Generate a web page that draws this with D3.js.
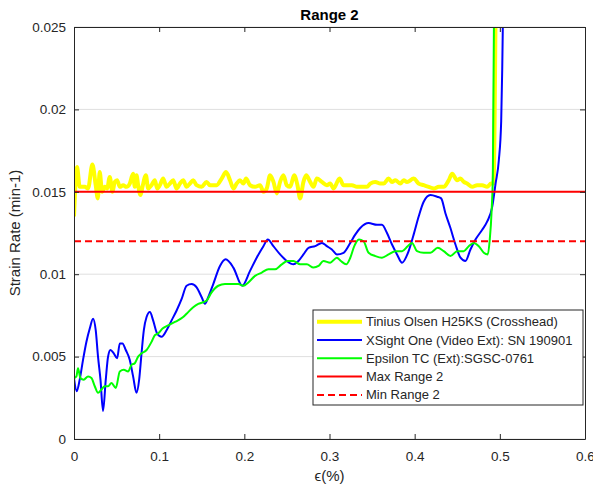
<!DOCTYPE html>
<meta charset="utf-8">
<script src="https://d3js.org/d3.v7.min.js"></script>
<style>
  body { margin: 0; background: #fff; }
  text { font-family: "Liberation Sans", Arial, sans-serif; fill: #262626; }
</style>
<div id="chart"></div>
<script>

// data: strain (%) and strain rate (min-1)
var yellowX = [0,0.0036,0.0067,0.0126,0.0165,0.0216,0.0255,0.0279,0.0302,0.0330,0.0361,0.0389,0.0420,0.0451,0.0479,0.0506,0.0538,0.0577,0.0616,0.0655,0.0694,0.0714,0.0734,0.0753,0.0781,0.0804,0.0844,0.0871,0.0910,0.0949,0.0977,0.1008,0.1047,0.1087,0.1126,0.1165,0.1204,0.1244,0.1283,0.1322,0.1361,0.1400,0.1440,0.1498,0.1557,0.1596,0.1675,0.1734,0.1785,0.1832,0.1871,0.1910,0.1949,0.1989,0.2020,0.2067,0.2126,0.2185,0.2224,0.2263,0.2302,0.2342,0.2381,0.2420,0.2459,0.2498,0.2538,0.2585,0.2624,0.2655,0.2694,0.2726,0.2773,0.2812,0.2851,0.2910,0.2969,0.3008,0.3047,0.3118,0.3165,0.3204,0.3263,0.3322,0.3381,0.3440,0.3479,0.3538,0.3596,0.3636,0.3694,0.3734,0.3773,0.3832,0.3871,0.3910,0.3989,0.4047,0.4106,0.4165,0.4224,0.4283,0.4341,0.4400,0.4440,0.4498,0.4538,0.4577,0.4616,0.4675,0.4734,0.4792,0.4851,0.4898,0.4925,0.4950];
var yellowY = [0.0135,0.0165,0.0153,0.0153,0.0152,0.01665,0.0154,0.0146,0.0162,0.0150,0.0153,0.0152,0.0159,0.0150,0.0156,0.0157,0.0153,0.0154,0.0153,0.0155,0.0161,0.0153,0.0160,0.0154,0.0148,0.0153,0.0160,0.0152,0.0154,0.0157,0.0152,0.0154,0.0158,0.0153,0.0155,0.0157,0.0152,0.0155,0.0157,0.0153,0.0155,0.0157,0.0154,0.0153,0.0156,0.0154,0.0154,0.0158,0.0162,0.0157,0.0152,0.0155,0.0157,0.0155,0.0158,0.0154,0.0153,0.0154,0.0150,0.0152,0.0160,0.0156,0.0149,0.0156,0.0160,0.0154,0.0153,0.0160,0.0154,0.0146,0.0156,0.0160,0.0156,0.0153,0.0158,0.0156,0.0154,0.0155,0.0152,0.0158,0.0154,0.0154,0.0154,0.0153,0.0153,0.0153,0.0155,0.0156,0.0155,0.0155,0.0158,0.0156,0.0157,0.0155,0.0157,0.0156,0.0158,0.0155,0.0154,0.0153,0.0152,0.0153,0.0153,0.0157,0.0161,0.0157,0.0158,0.0156,0.0155,0.0153,0.0154,0.0154,0.0153,0.0155,0.0155,0.0260];

var blueX = [0,0.0032,0.0067,0.0106,0.0146,0.0185,0.0224,0.0255,0.0282,0.0311,0.0341,0.0373,0.0400,0.0428,0.0467,0.0506,0.0538,0.0569,0.0608,0.0655,0.0694,0.0734,0.0765,0.0793,0.0820,0.0852,0.0891,0.0929,0.0976,0.1028,0.1087,0.1146,0.1205,0.1264,0.1322,0.1381,0.1440,0.1499,0.1538,0.1576,0.1635,0.1714,0.1781,0.1871,0.1975,0.2067,0.2145,0.2224,0.2275,0.2341,0.2420,0.2499,0.2576,0.2635,0.2694,0.2753,0.2832,0.2911,0.2969,0.3028,0.3087,0.3165,0.3244,0.3302,0.3361,0.3459,0.3558,0.3616,0.3675,0.3734,0.3793,0.3852,0.3929,0.3988,0.4047,0.4106,0.4185,0.4264,0.4311,0.4361,0.4420,0.4479,0.4538,0.4596,0.4655,0.4714,0.4793,0.4852,0.4911,0.4950,0.4988,0.5016,0.5028,0.5035,0.5040];
var blueY = [0.0037,0.0029,0.0036,0.0048,0.0059,0.0067,0.0073,0.0066,0.0050,0.0036,0.0017,0.0036,0.0050,0.0054,0.0052,0.0049,0.0058,0.0058,0.0054,0.0048,0.0038,0.0028,0.0036,0.0052,0.0066,0.0074,0.0077,0.0072,0.0064,0.0062,0.0066,0.0072,0.0078,0.0085,0.0093,0.0094,0.0092,0.0086,0.0082,0.0086,0.0094,0.0105,0.0109,0.0104,0.0093,0.0102,0.0110,0.0117,0.0121,0.0117,0.0112,0.0108,0.0106,0.0108,0.0112,0.0116,0.0117,0.0119,0.0117,0.0115,0.0112,0.0113,0.0119,0.0124,0.0128,0.0131,0.0130,0.0130,0.0125,0.0118,0.0112,0.0107,0.0114,0.0124,0.0135,0.0144,0.0148,0.0147,0.0146,0.0137,0.0128,0.0118,0.0110,0.0108,0.0115,0.0121,0.0127,0.0132,0.0141,0.0155,0.0169,0.0193,0.0224,0.0250,0.0270];

var greenX = [0,0.0028,0.0047,0.0075,0.0114,0.0165,0.0205,0.0244,0.0282,0.0322,0.0361,0.0400,0.0440,0.0491,0.0538,0.0585,0.0635,0.0675,0.0714,0.0753,0.0793,0.0852,0.0911,0.0949,0.0988,0.1040,0.1106,0.1185,0.1282,0.1341,0.1400,0.1459,0.1518,0.1558,0.1616,0.1694,0.1773,0.1852,0.1929,0.1988,0.2047,0.2126,0.2205,0.2282,0.2361,0.2440,0.2506,0.2576,0.2655,0.2734,0.2812,0.2871,0.2929,0.3008,0.3087,0.3134,0.3196,0.3244,0.3291,0.3345,0.3400,0.3459,0.3538,0.3616,0.3694,0.3773,0.3852,0.3918,0.3969,0.4028,0.4106,0.4185,0.4271,0.4341,0.4420,0.4499,0.4576,0.4635,0.4694,0.4753,0.4812,0.4859,0.4880,0.4905,0.4918,0.4932];
var greenY = [0.0037,0.0038,0.0043,0.0037,0.0036,0.0038,0.0037,0.0032,0.0028,0.0030,0.0032,0.0032,0.0034,0.0031,0.0041,0.0042,0.0041,0.0045,0.0046,0.0050,0.0052,0.0054,0.0059,0.0063,0.0064,0.0067,0.0069,0.0071,0.0074,0.0077,0.0080,0.0082,0.0083,0.0084,0.0089,0.0093,0.0094,0.0094,0.0094,0.0093,0.0095,0.0099,0.0101,0.0103,0.0103,0.0106,0.0108,0.0108,0.0106,0.0106,0.0104,0.0105,0.0108,0.0107,0.0110,0.0108,0.0106,0.0110,0.0117,0.0121,0.0120,0.0113,0.0111,0.0110,0.0112,0.0114,0.0114,0.0117,0.0119,0.0114,0.0113,0.0113,0.0116,0.0114,0.0111,0.0114,0.0114,0.0117,0.0119,0.0117,0.0113,0.0112,0.0120,0.0140,0.0160,0.0260];

var maxRange = 0.015;
var minRange = 0.012;

var legendLabels = ["Tinius Olsen H25KS (Crosshead)", "XSight One (Video Ext): SN 190901",
                    "Epsilon TC (Ext):SGSC-0761", "Max Range 2", "Min Range 2"];
var xTicks = [0, 0.1, 0.2, 0.3, 0.4, 0.5, 0.6];
var yTicks = [0, 0.005, 0.01, 0.015, 0.02, 0.025];

var W = 593, H = 488;
var pL = 74, pR = 585, pT = 27, pB = 439;

var svg = d3.select("#chart").append("svg")
    .attr("width", W).attr("height", H);

var x = d3.scaleLinear().domain([0, 0.6]).range([pL, pR]);
var y = d3.scaleLinear().domain([0, 0.025]).range([pB, pT]);

// grid (horizontal only)
svg.append("g").selectAll("line")
  .data(yTicks)
  .enter().append("line")
    .attr("x1", pL).attr("x2", pR)
    .attr("y1", function(d){ return y(d); })
    .attr("y2", function(d){ return y(d); })
    .attr("stroke", "#dfdfdf").attr("stroke-width", 1);

svg.append("clipPath").attr("id", "clip")
  .append("rect").attr("x", pL).attr("y", pT)
    .attr("width", pR - pL).attr("height", pB - pT);

var plot = svg.append("g").attr("clip-path", "url(#clip)");

var line = d3.line()
    .curve(d3.curveMonotoneX)
    .x(function(d){ return x(d[0]); })
    .y(function(d){ return y(d[1]); });

function zip(a, b) { return a.map(function(v, i){ return [v, b[i]]; }); }

var series = [
  {pts: zip(yellowX, yellowY), color: "#ffff00", w: 4},
  {pts: zip(blueX, blueY), color: "#0000ff", w: 2},
  {pts: zip(greenX, greenY), color: "#00ff00", w: 2}
];

series.forEach(function(s){
  plot.append("path")
    .datum(s.pts)
    .attr("fill", "none")
    .attr("stroke", s.color)
    .attr("stroke-width", s.w)
    .attr("stroke-linejoin", "round")
    .attr("d", line);
});

plot.append("line")
  .attr("x1", x(0)).attr("x2", x(0.6))
  .attr("y1", y(maxRange)).attr("y2", y(maxRange))
  .attr("stroke", "#ff0000").attr("stroke-width", 2);
plot.append("line")
  .attr("x1", x(0)).attr("x2", x(0.6))
  .attr("y1", y(minRange)).attr("y2", y(minRange))
  .attr("stroke", "#ff0000").attr("stroke-width", 2)
  .attr("stroke-dasharray", "7,4");

// axes
var fmt = function(d){ return d === 0 ? "0" : String(+d.toFixed(3)); };
function styleAxis(g) {
  g.select(".domain").attr("stroke", "#262626");
  g.selectAll(".tick line").attr("stroke", "#262626");
  g.selectAll(".tick text").style("font-size", "13.5px").attr("fill", "#262626");
}

svg.append("g")
  .attr("transform", "translate(0," + pB + ")")
  .call(d3.axisBottom(x).tickValues(xTicks).tickFormat(fmt).tickSizeInner(-5).tickSizeOuter(0).tickPadding(12))
  .call(styleAxis);
svg.append("g")
  .attr("transform", "translate(0," + pT + ")")
  .call(d3.axisTop(x).tickValues(xTicks).tickFormat("").tickSizeInner(-5).tickSizeOuter(0))
  .call(styleAxis);
svg.append("g")
  .attr("transform", "translate(" + pL + ",0)")
  .call(d3.axisLeft(y).tickValues(yTicks).tickFormat(fmt).tickSizeInner(-5).tickSizeOuter(0).tickPadding(8))
  .call(styleAxis);
svg.append("g")
  .attr("transform", "translate(" + pR + ",0)")
  .call(d3.axisRight(y).tickValues(yTicks).tickFormat("").tickSizeInner(-5).tickSizeOuter(0))
  .call(styleAxis);

// title and labels
svg.append("text")
  .attr("x", (pL + pR) / 2).attr("y", 20)
  .attr("text-anchor", "middle")
  .style("font-size", "15px").style("font-weight", "bold")
  .style("fill", "#000")
  .text("Range 2");

svg.append("text")
  .attr("x", (pL + pR) / 2).attr("y", 481)
  .attr("text-anchor", "middle")
  .style("font-size", "15px")
  .text("\u03f5(%)");

svg.append("text")
  .attr("transform", "translate(20," + ((pT + pB) / 2) + ") rotate(-90)")
  .attr("text-anchor", "middle")
  .style("font-size", "15px")
  .text("Strain Rate (min-1)");

// legend
var legendStyle = [
  {color: "#ffff00", w: 4, dash: null},
  {color: "#0000ff", w: 2, dash: null},
  {color: "#00ff00", w: 2, dash: null},
  {color: "#ff0000", w: 2, dash: null},
  {color: "#ff0000", w: 2, dash: "7,4"}
];
var lg = svg.append("g").attr("transform", "translate(313,310)");
lg.append("rect")
  .attr("width", 270).attr("height", 95)
  .attr("fill", "#fff").attr("stroke", "#262626").attr("stroke-width", 1);
legendLabels.forEach(function(lab, i){
  var cy = 11.7 + i * 18.3;
  var st = legendStyle[i];
  lg.append("line")
    .attr("x1", 4).attr("x2", 49).attr("y1", cy).attr("y2", cy)
    .attr("stroke", st.color).attr("stroke-width", st.w)
    .attr("stroke-dasharray", st.dash);
  lg.append("text")
    .attr("x", 53).attr("y", cy + 4.5)
    .style("font-size", "13px")
    .text(lab);
});

</script>
